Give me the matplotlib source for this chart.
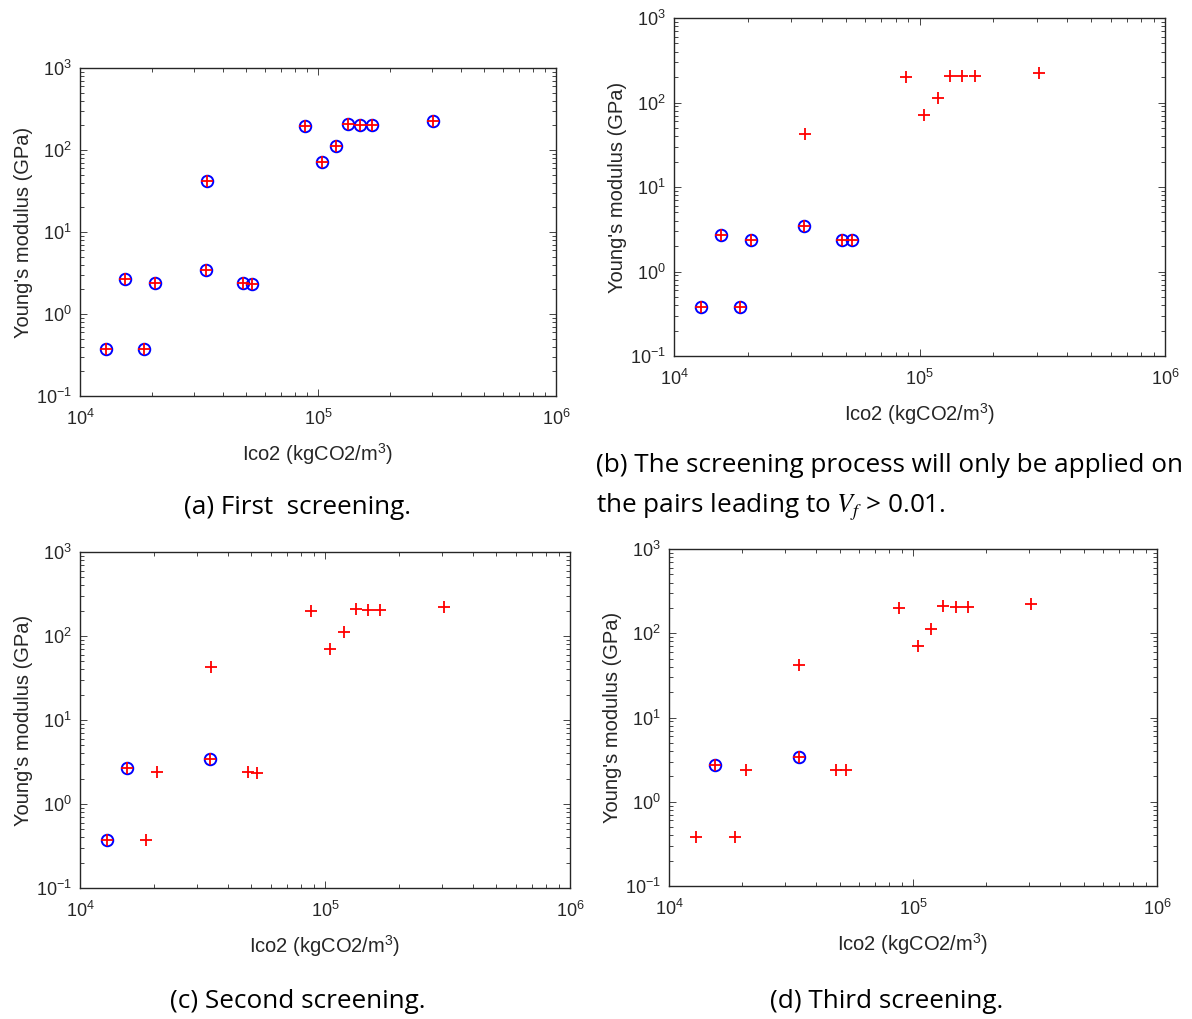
import matplotlib
matplotlib.use("Agg")
import matplotlib.pyplot as plt
import numpy as np

# Data (Ico2 in kgCO2/m^3, Young's modulus in GPa)
ico2 = [1.286e4, 1.549e4, 1.863e4, 2.06e4, 3.42e4, 3.40e4, 4.85e4, 5.30e4,
        8.80e4, 1.044e5, 1.19e5, 1.333e5, 1.495e5, 1.683e5, 3.055e5]
young = [0.377, 2.70, 0.377, 2.39, 42.2, 3.42, 2.39, 2.35,
         198, 70.7, 113, 208, 204, 204, 224]

# indices of points kept (circled) in each screening
kept_a = list(range(15))
kept_b = [0, 1, 2, 3, 5, 6, 7]
kept_c = [0, 1, 5]
kept_d = [1, 5]

captions = {
    "a": "(a) First  screening.",
    "c": "(c) Second screening.",
    "d": "(d) Third screening.",
}
caption_b1 = "(b) The screening process will only be applied on"
caption_b2 = r"the pairs leading to $\mathit{V}_{\mathit{f}}$ > 0.01."

plt.rcParams['mathtext.fontset'] = 'custom'
plt.rcParams['mathtext.rm'] = 'Liberation Sans'
plt.rcParams['mathtext.it'] = 'Liberation Sans:italic'
plt.rcParams['mathtext.default'] = 'regular'
plt.rcParams['axes.unicode_minus'] = False

W, H = 1192, 1019
fig = plt.figure(figsize=(W / 100, H / 100), dpi=100)
fig.patch.set_facecolor("white")

def add_ax(x0, y0, x1, y1):
    ax = fig.add_axes([x0 / W, 1 - y1 / H, (x1 - x0) / W, (y1 - y0) / H])
    return ax, (x1 - x0), (y1 - y0)

tick_col = "#262626"

def draw(box, kept):
    ax, wpx, hpx = box
    kx = [ico2[i] for i in kept]
    ky = [young[i] for i in kept]
    ax.plot(kx, ky, linestyle="none", marker="o", markersize=8.3,
            markerfacecolor="none", markeredgecolor="blue", markeredgewidth=1.4)
    ax.plot(ico2, young, linestyle="none", marker="+", markersize=9,
            color="red", markeredgewidth=1.3)
    ax.set_xscale("log")
    ax.set_yscale("log")
    ax.set_xlim(1e4, 1e6)
    ax.set_ylim(1e-1, 1e3)
    ax.tick_params(which="both", direction="in", top=True, right=True,
                   colors=tick_col, labelsize=13, width=0.6)
    ax.tick_params(axis="x", which="major", length=5, pad=9)
    ax.tick_params(axis="y", which="major", length=5, pad=6)
    ax.tick_params(which="minor", length=3)
    for s in ax.spines.values():
        s.set_color("#262626")
        s.set_linewidth(1.0)
    ax.set_xlabel("Ico2 (kgCO2/m$^3$)", fontsize=14.5, color=tick_col,
                  family="Liberation Sans")
    ax.set_ylabel("Young's modulus (GPa)", fontsize=14.5, color=tick_col,
                  family="Liberation Sans")
    ax.xaxis.set_label_coords(0.5, -45 / hpx)
    ax.yaxis.set_label_coords(-47 / wpx, 0.5)
    for lab in ax.get_xticklabels() + ax.get_yticklabels():
        lab.set_family("Liberation Sans")

draw(add_ax(80, 68, 556, 396), kept_a)
draw(add_ax(674, 18, 1165, 356), kept_b)
draw(add_ax(80, 552, 570, 888), kept_c)
draw(add_ax(669, 549, 1157, 886), kept_d)

cap_kw = dict(fontsize=18.8, family="Open Sans", color="black", va="center")
fig.text(298 / W, 1 - 508 / H, captions["a"], ha="center", **cap_kw)
fig.text(596 / W, 1 - 466 / H, caption_b1, ha="left", **cap_kw)
fig.text(596 / W, 1 - 507 / H, caption_b2, ha="left", math_fontfamily="stix", **cap_kw)
fig.text(298 / W, 1 - 1001 / H, captions["c"], ha="center", **cap_kw)
fig.text(887 / W, 1 - 1001 / H, captions["d"], ha="center", **cap_kw)

fig.savefig("out.png", dpi=100)
